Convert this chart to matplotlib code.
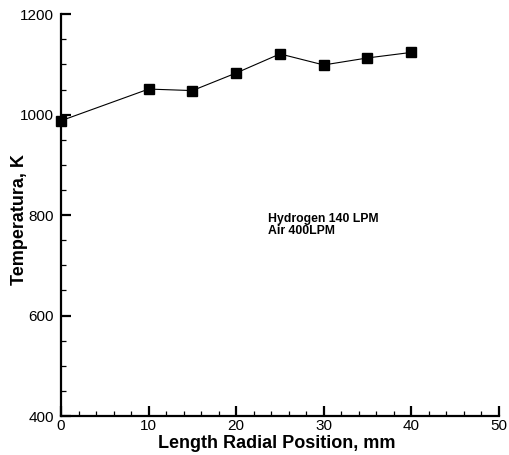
import numpy as np
import matplotlib.pyplot as plt
from matplotlib.ticker import MultipleLocator

plt.rcParams['font.family'] = ['Liberation Sans', 'DejaVu Sans']

# radial position (mm) and temperature (K)
position = [0, 10, 15, 20, 25, 30, 35, 40]
temperature = [988, 1051, 1048, 1083, 1121, 1099, 1113, 1124]

fig = plt.figure(figsize=(5.09, 4.55), dpi=100)
ax = fig.add_axes([0.12, 0.0857, 0.86, 0.883])

ax.plot(position, temperature, color='black', lw=0.8, marker='s',
        markersize=7.5, markerfacecolor='black', clip_on=False, zorder=3)

ax.set_xlim(0, 50)
ax.set_ylim(400, 1200)
ax.xaxis.set_major_locator(MultipleLocator(10))
ax.xaxis.set_minor_locator(MultipleLocator(2))
ax.yaxis.set_major_locator(MultipleLocator(200))
ax.yaxis.set_minor_locator(MultipleLocator(50))

for s in ['top', 'right']:
    ax.spines[s].set_visible(False)
for s in ['left', 'bottom']:
    ax.spines[s].set_linewidth(1.6)

ax.tick_params(which='major', direction='in', length=7, width=1.6,
               labelsize=11)
ax.tick_params(axis='y', which='major', pad=5)
ax.tick_params(axis='x', which='major', pad=2.5)
ax.tick_params(which='minor', direction='in', length=3.5, width=0.9)

ax.set_xlabel('Length Radial Position, mm', fontsize=13, fontweight='bold', va='center')
ax.xaxis.set_label_coords(0.493, -0.068)
ax.set_ylabel('Temperatura, K', fontsize=13, fontweight='bold', va='center')
ax.yaxis.set_label_coords(-0.096, 0.488)

ax.text(23.6, 805, 'Hydrogen 140 LPM\nAir 400LPM', fontsize=8.8, fontweight='bold',
        va='top', ha='left', linespacing=1.0)

fig.savefig('out.png', dpi=100)
